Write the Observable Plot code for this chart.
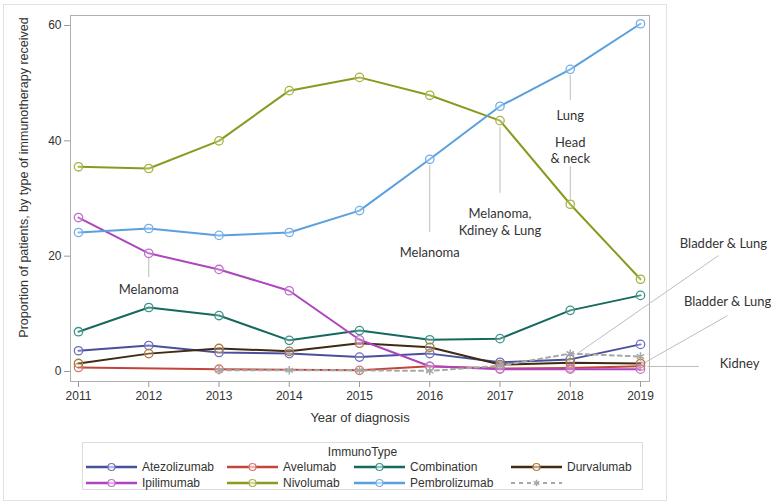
<!DOCTYPE html>
<html>
<head>
<meta charset="utf-8">
<script src="https://cdn.jsdelivr.net/npm/d3@7"></script>
<script src="https://cdn.jsdelivr.net/npm/@observablehq/plot@0.6"></script>
<style>
  html, body { margin: 0; padding: 0; background: #fff; }
  #wrap { position: relative; width: 771px; height: 504px; overflow: hidden; font-family: "Liberation Sans", Arial, sans-serif; color: #333; }
  #outer { position: absolute; left: 3px; top: 4px; width: 664px; height: 497px; border: 1px solid #e2e2e2; box-sizing: border-box; }
  #chart { position: absolute; left: 0; top: 0; }
  #legend { position: absolute; left: 82px; top: 442px; width: 561px; height: 48px; border: 1px solid #dcdcdc; box-sizing: border-box; font-size: 12px; }
  #legend .title { position: absolute; top: 2px; left: 0; width: 100%; text-align: center; }
  #legend .item { position: absolute; height: 16px; display: flex; align-items: center; white-space: nowrap; }
  #legend svg { display: block; margin-right: 5px; }
</style>
</head>
<body>
<div id="wrap">
  <div id="outer"></div>
  <div id="chart"></div>
  <div id="legend"><div class="title">ImmunoType</div></div>
</div>
<script>
// ---- data ----
const years = [2011, 2012, 2013, 2014, 2015, 2016, 2017, 2018, 2019];
const seriesNames = ["Atezolizumab", "Avelumab", "Combination", "Durvalumab", "Ipilimumab", "Nivolumab", "Pembrolizumab", ""];
const atezolizumab  = [3.6, 4.5, 3.3, 3.1, 2.5, 3.1, 1.6, 2.1, 4.7];
const avelumab      = [0.7, null, 0.4, null, 0.2, 0.9, 0.5, 0.6, 0.9];
const combination   = [6.9, 11.1, 9.7, 5.4, 7.1, 5.5, 5.7, 10.6, 13.2];
const durvalumab    = [1.4, 3.1, 4.0, 3.5, 4.9, 4.2, 1.2, 1.5, 1.4];
const ipilimumab    = [26.7, 20.5, 17.7, 14.0, 5.5, 0.9, 0.4, 0.4, 0.4];
const nivolumab     = [35.5, 35.2, 40.0, 48.7, 51.0, 47.9, 43.5, 29.0, 16.0];
const pembrolizumab = [24.1, 24.8, 23.6, 24.1, 27.9, 36.8, 46.0, 52.4, 60.3];
const unnamed       = [null, null, 0.2, 0.2, 0.2, 0.1, 1.0, 3.1, 2.6];
const yTicks = [0, 20, 40, 60];

const xLabel = "Year of diagnosis";
const yLabel = "Proportion of patients, by type of immunotherapy received";

// annotations inside the plot: leader line (year, from, to) and text lines
const notes = [
  {year: 2012, from: 19.6, to: 16.3, lines: ["Melanoma"], textAt: [14.2]},
  {year: 2016, from: 35.7, to: 24.1, lines: ["Melanoma"], textAt: [20.5]},
  {year: 2017, from: 42.3, to: 30.9, lines: ["Melanoma,", "Kdiney & Lung"], textAt: [27.4, 24.4]},
  {year: 2018, from: 51.3, to: 47.0, lines: ["Lung"], textAt: [44.4]},
  {year: 2018, from: 35.5, to: 29.8, lines: ["Head", "& neck"], textAt: [39.7, 36.9]}
];
// annotations outside the plot (right side)
const sideNotes = [
  {label: "Bladder & Lung", x1: 2020.11, y1: 20.1, x2: 2018.10, y2: 3.1, tx: 2020.18, ty: 22.2},
  {label: "Bladder & Lung", x1: 2020.24, y1: 9.7, x2: 2019.04, y2: 1.4, tx: 2020.24, ty: 12.0},
  {label: "Kidney", x1: 2019.83, y1: 0.87, x2: 2019.10, y2: 0.87, tx: 2020.41, ty: 1.4}
];

const styles = {
  "Atezolizumab":  {line: "#4a4f9c", mark: "#6b70c2"},
  "Avelumab":      {line: "#c2453c", mark: "#d8756c"},
  "Combination":   {line: "#16695e", mark: "#3a958a"},
  "Durvalumab":    {line: "#3f2a12", mark: "#b27a35"},
  "Ipilimumab":    {line: "#ad45bd", mark: "#c26fd0"},
  "Nivolumab":     {line: "#8a9a1e", mark: "#a9b340"},
  "Pembrolizumab": {line: "#5a9fde", mark: "#74b0e8"},
  "":              {line: "#a8a8a8", mark: "#a8a8a8"}
};

const allValues = [atezolizumab, avelumab, combination, durvalumab, ipilimumab, nivolumab, pembrolizumab, unnamed];
const rows = [];
seriesNames.forEach((name, i) => {
  allValues[i].forEach((v, j) => { if (v != null) rows.push({series: name, year: years[j], value: v}); });
});

const noteRules = notes.map(n => ({year: n.year, from: n.from, to: n.to}));
const noteTexts = notes.flatMap(n => n.lines.map((t, k) => ({year: n.year, value: n.textAt[k], text: t})));

const annoFont = "Lato, 'Open Sans', sans-serif";

const marks = [
  Plot.frame({stroke: "#b0b0b0"}),
  Plot.axisX({ticks: years, tickFormat: d => String(d), tickSize: 6, tickPadding: 4, label: null, fontSize: 12}),
  Plot.axisY({ticks: yTicks, tickSize: 6, tickPadding: 3, label: null, fontSize: 12}),
  Plot.text([xLabel], {frameAnchor: "bottom", dy: 40, fontSize: 13, fill: "#333"}),
  Plot.text([yLabel], {frameAnchor: "left", textAnchor: "middle", rotate: -90, dx: -47, dy: -21, fontSize: 12.5, fill: "#333"}),
  // leader lines
  Plot.ruleX(noteRules, {x: "year", y1: "from", y2: "to", stroke: "#bdbdbd", strokeWidth: 1}),
  Plot.link(sideNotes, {x1: "x1", y1: "y1", x2: "x2", y2: "y2", stroke: "#bdbdbd", strokeWidth: 1}),
];

seriesNames.forEach(name => {
  const s = styles[name];
  const data = rows.filter(r => r.series === name);
  if (name === "") {
    marks.push(Plot.line(data, {x: "year", y: "value", stroke: s.line, strokeWidth: 2, strokeDasharray: "4,4"}));
    marks.push(Plot.dot(data, {x: "year", y: "value", symbol: "asterisk", r: 4, stroke: s.mark, strokeWidth: 1.5}));
  } else {
    marks.push(Plot.line(data, {x: "year", y: "value", stroke: s.line, strokeWidth: 2}));
    marks.push(Plot.dot(data, {x: "year", y: "value", r: 4.2, stroke: s.mark, strokeWidth: 1.3, fill: "white", fillOpacity: 0.25}));
  }
});

marks.push(
  Plot.text(noteTexts, {x: "year", y: "value", text: "text", fontSize: 13, fill: "#333", fontFamily: annoFont}),
  Plot.text(sideNotes, {x: "tx", y: "ty", text: "label", fontSize: 13, fill: "#333", fontFamily: annoFont})
);

const chart = Plot.plot({
  width: 771,
  height: 440,
  marginLeft: 70,
  marginRight: 122,
  marginTop: 15,
  marginBottom: 59,
  x: {domain: [2011, 2019], insetLeft: 8, insetRight: 9},
  y: {domain: [0, 60], insetTop: 10, insetBottom: 10},
  style: {fontFamily: "'Liberation Sans', Arial, sans-serif", fontSize: "12px", color: "#333", background: "transparent", overflow: "visible"},
  marks
});
d3.select(chart).selectAll("[aria-label='x-axis tick'], [aria-label='y-axis tick']").attr("stroke", "#9a9a9a");
document.getElementById("chart").appendChild(chart);

// ---- legend ----
const legendPos = [
  {name: "Atezolizumab", x: 3, y: 16}, {name: "Avelumab", x: 144, y: 16},
  {name: "Combination", x: 271, y: 16}, {name: "Durvalumab", x: 428, y: 16},
  {name: "Ipilimumab", x: 3, y: 32}, {name: "Nivolumab", x: 144, y: 32},
  {name: "Pembrolizumab", x: 271, y: 32}, {name: "", x: 428, y: 32}
];
const legend = document.getElementById("legend");
legendPos.forEach(p => {
  const s = styles[p.name];
  const item = document.createElement("div");
  item.className = "item";
  item.style.left = p.x + "px";
  item.style.top = p.y + "px";
  const sw = d3.create("svg").attr("width", 51).attr("height", 12);
  if (p.name === "") {
    sw.append("line").attr("x1", 0).attr("x2", 51).attr("y1", 6).attr("y2", 6)
      .attr("stroke", s.line).attr("stroke-width", 2).attr("stroke-dasharray", "4,4");
    sw.append("path").attr("d", d3.symbol(d3.symbolAsterisk, 30)()).attr("transform", "translate(25.5,6)")
      .attr("stroke", s.mark).attr("stroke-width", 1.5).attr("fill", "none");
  } else {
    sw.append("line").attr("x1", 0).attr("x2", 51).attr("y1", 6).attr("y2", 6)
      .attr("stroke", s.line).attr("stroke-width", 2.5);
    sw.append("circle").attr("cx", 25.5).attr("cy", 6).attr("r", 3.5)
      .attr("stroke", s.mark).attr("stroke-width", 1.2).attr("fill", "white").attr("fill-opacity", 0.6);
  }
  item.appendChild(sw.node());
  const t = document.createElement("span");
  t.textContent = p.name;
  item.appendChild(t);
  legend.appendChild(item);
});
</script>
</body>
</html>
